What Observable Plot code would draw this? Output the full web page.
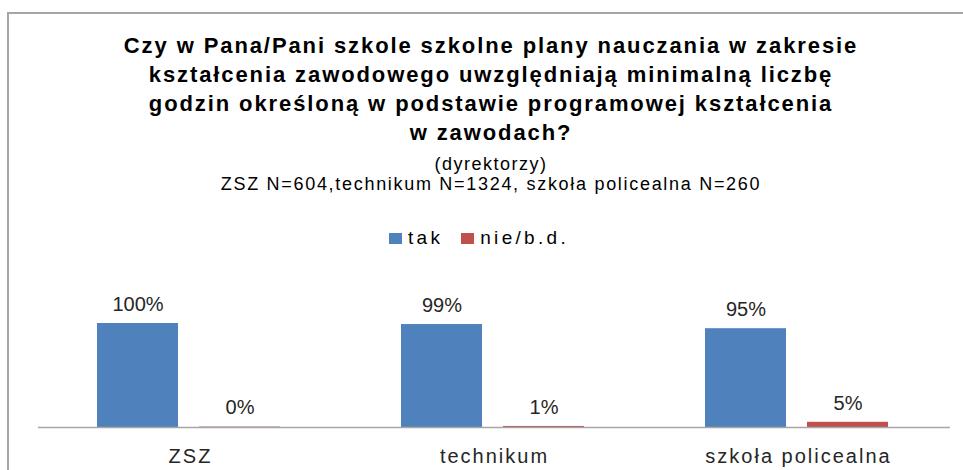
<!DOCTYPE html>
<html>
<head>
<meta charset="utf-8">
<script src="https://cdn.jsdelivr.net/npm/d3@7"></script>
<script src="https://cdn.jsdelivr.net/npm/@observablehq/plot@0.6"></script>
<style>
  html, body { margin: 0; padding: 0; background: #fff; overflow: hidden; }
  body { width: 963px; height: 470px; position: relative; font-family: "Liberation Sans", Arial, sans-serif; color: #000; }
  .frame { position: absolute; left: 7px; top: 12px; width: 1000px; height: 1000px; border-left: 2px solid #a6a6a6; border-top: 2px solid #a6a6a6; }
  .abs { position: absolute; left: 0; width: 982px; text-align: center; white-space: nowrap; }
  .title { top: 31px; font-size: 22px; font-weight: bold; line-height: 29px; letter-spacing: 1.9px; }
  .sub1 { top: 155px; font-size: 18px; line-height: 18px; letter-spacing: 1.5px; }
  .sub2 { top: 175px; font-size: 18px; line-height: 18px; letter-spacing: 1.7px; }
  .legend { position: absolute; left: 389px; top: 228px; font-size: 19px; line-height: 19px; letter-spacing: 3.3px; white-space: nowrap; }
  .item { display: inline-block; }
  .sw { display: inline-block; width: 13px; height: 11px; margin-right: 6px; vertical-align: 0px; }
  #chart { position: absolute; left: 0; top: 270px; }
  #chart g[aria-label="fx-axis tick label"] text { letter-spacing: 2px; }
</style>
</head>
<body>
<div class="frame"></div>
<div class="abs title">Czy w Pana/Pani szkole szkolne plany nauczania w zakresie<br>kształcenia zawodowego uwzględniają minimalną liczbę<br>godzin określoną w podstawie programowej kształcenia<br>w zawodach?</div>
<div class="abs sub1">(dyrektorzy)</div>
<div class="abs sub2">ZSZ N=604,technikum N=1324, szkoła policealna N=260</div>
<div class="legend" id="legend"></div>
<div id="chart"></div>
<script>
const categories = ["ZSZ", "technikum", "szkoła policealna"];
const seriesNames = ["tak", "nie/b.d."];
const seriesColors = ["#4F81BD", "#C0504D"];
const takValues = [100, 99, 95];
const nieValues = [0.4, 1, 5];
const takLabels = ["100%", "99%", "95%"];
const nieLabels = ["0%", "1%", "5%"];

const rows = [];
categories.forEach((c, i) => {
  rows.push({category: c, series: seriesNames[0], value: takValues[i], label: takLabels[i]});
  rows.push({category: c, series: seriesNames[1], value: nieValues[i], label: nieLabels[i]});
});

// legend
const legend = document.getElementById("legend");
legend.innerHTML = seriesNames.map((s, i) =>
  `<span class="item" style="margin-right:${i === 0 ? 18 : 0}px"><span class="sw" style="background:${seriesColors[i]}"></span>${s}</span>`
).join("");

const chart = Plot.plot({
  width: 963,
  height: 200,
  marginTop: 53,
  marginBottom: 43,
  marginLeft: 37,
  marginRight: 13,
  style: {fontFamily: "Liberation Sans, Arial, sans-serif", fontSize: "20px", color: "#262626", background: "transparent", overflow: "visible"},
  fx: {domain: categories, padding: 0, label: null, tickSize: 0, tickPadding: 21, axis: "bottom"},
  x: {domain: seriesNames, paddingInner: 0.206, paddingOuter: 0.59, align: 0.49, axis: null},
  y: {domain: [0, 100], axis: null},
  color: {domain: seriesNames, range: seriesColors},
  marks: [
    Plot.barY(rows, {fx: "category", x: "series", y: "value", fill: "series"}),
    Plot.ruleY([0], {stroke: "#a6a6a6", strokeWidth: 1.5}),
    Plot.text(rows, {fx: "category", x: "series", y: "value", text: "label", dy: -19, fill: "#262626", fontSize: 20, lineAnchor: "middle"})
  ]
});
document.getElementById("chart").appendChild(chart);
</script>
</body>
</html>
